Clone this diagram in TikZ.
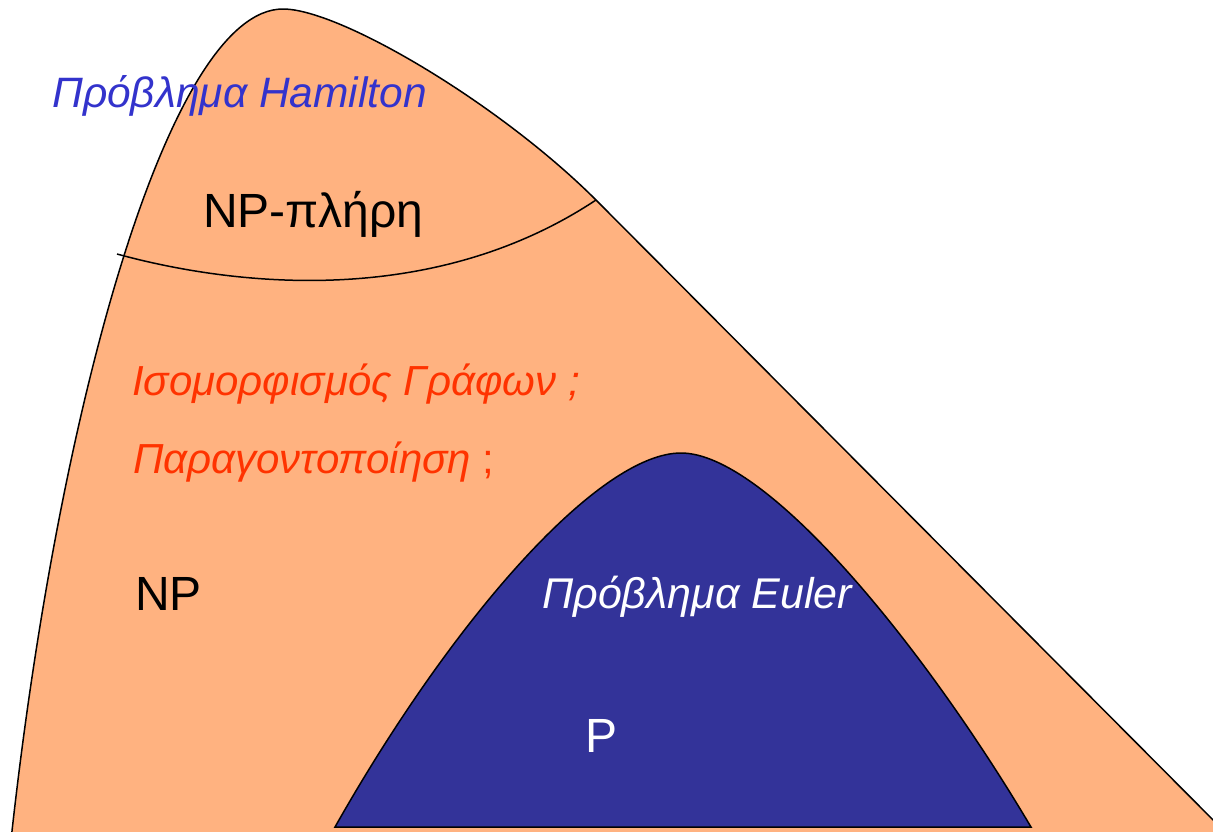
\documentclass[tikz,border=0pt]{standalone}
\usepackage{fontspec}
\setmainfont{Liberation Sans}
\definecolor{npfill}{RGB}{255,178,128}
\definecolor{pfill}{RGB}{51,51,153}
\definecolor{hamblue}{RGB}{51,51,204}
\definecolor{qred}{RGB}{255,51,0}
\begin{document}
\begin{tikzpicture}[x=1pt,y=1pt,yscale=-1,xscale=1,
    region/.style={draw=black,line width=1.5pt},
    txt/.style={anchor=base west,inner sep=0pt}]
    \useasboundingbox (0,0) rectangle (1213,831);
    \clip (0,0) rectangle (1213,831);
    %Shape: NP region
    \draw [region,fill=npfill] (12,831) .. controls (60,400) and (170,9) .. (283,9) .. controls (340,9) and (500,104) .. (596,200) -- (1240,847) -- (1240,900) -- (10,900) -- cycle ;
    %Curve: NP-complete border
    \coordinate (bl) at (117,254);
    \coordinate (br) at (596,200);
    \draw [region] (bl) .. controls (230,285) and (430,310) .. (br) ;
    %Shape: P region
    \draw [region,fill=pfill] (335,827) .. controls (455,615) and (600,453) .. (681,453) .. controls (765,453) and (920,640) .. (1031,827) -- cycle ;

    % Text Node
    \node (ham) [txt,text=hamblue,font=\fontsize{42.5}{50}\selectfont\itshape] at (52,107) {Πρόβλημα Hamilton};
    % Text Node
    \node (npc) [txt,font=\fontsize{48}{56}\selectfont] at (203,227) {NP-πλήρη};
    % Text Node
    \node (iso) [txt,text=qred,font=\fontsize{42}{50}\selectfont\itshape] at (132,395) {Ισομορφισμός Γράφων ;};
    % Text Node
    \node (fac) [txt,text=qred,font=\fontsize{42}{50}\selectfont] at (133,473) {\textit{Παραγοντοποίηση} ;};
    % Text Node
    \node (np) [txt,font=\fontsize{48}{56}\selectfont] at (135,610) {NP};
    % Text Node
    \node (eul) [txt,text=white,font=\fontsize{43}{50}\selectfont\itshape] at (542,608) {Πρόβλημα Euler};
    % Text Node
    \node (p) [txt,text=white,font=\fontsize{48}{56}\selectfont] at (585,752) {P};
\end{tikzpicture}
\end{document}
